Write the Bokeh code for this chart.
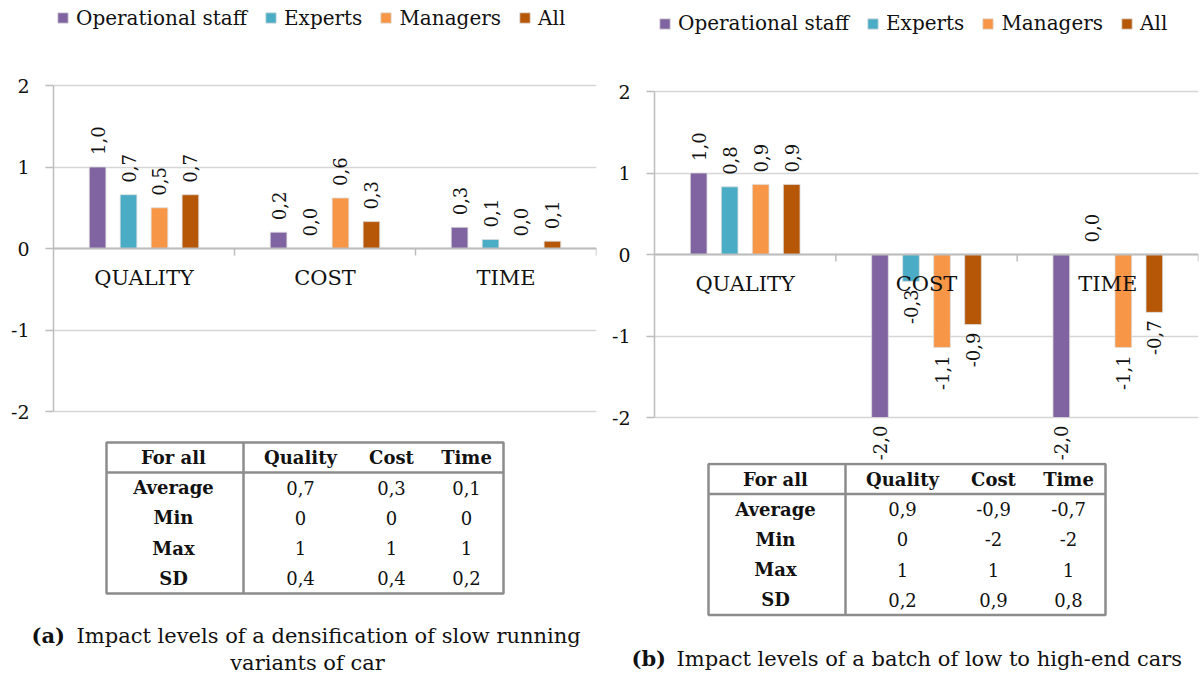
import math
from bokeh.plotting import figure
from bokeh.models import (FactorRange, Range1d, ColumnDataSource, FixedTicker,
                          Span, Legend, LegendItem, PrintfTickFormatter)
from bokeh.transform import dodge
from bokeh.layouts import row, column
from bokeh.embed import file_html
from bokeh.resources import INLINE
from bokeh.core.properties import value

# ---------------- data ----------------
categories = ["QUALITY", "COST", "TIME"]
series_names = ["Operational staff", "Experts", "Managers", "All"]

# panel (a): densification of slow running variants
a_operational = [1.0, 0.2, 0.26]
a_experts = [0.66, 0.0, 0.11]
a_managers = [0.5, 0.62, 0.0]
a_all = [0.66, 0.33, 0.09]

# panel (b): batch of low to high-end cars
b_operational = [1.0, -2.0, -2.0]
b_experts = [0.83, -0.33, 0.0]
b_managers = [0.86, -1.14, -1.14]
b_all = [0.86, -0.86, -0.71]

y_ticks = [-2, -1, 0, 1, 2]

table_header = ["For all", "Quality", "Cost", "Time"]
table_rows = ["Average", "Min", "Max", "SD"]
a_quality = [0.7, 0, 1, 0.4]
a_cost = [0.3, 0, 1, 0.4]
a_time = [0.1, 0, 1, 0.2]
b_quality = [0.9, 0, 1, 0.2]
b_cost = [-0.9, -2, 1, 0.9]
b_time = [-0.7, -2, 1, 0.8]

caption_a = ["(a)", "Impact levels of a densification of slow running", "variants of car"]
caption_b = ["(b)", "Impact levels of a batch of low to high-end cars"]

# ---------------- style ----------------
FONT = "DejaVu Serif"
COLORS = ["#8064A2", "#4BACC6", "#F79646", "#B65708"]
OFFSETS = [-0.2565, -0.0855, 0.0855, 0.2565]
BAR_W = 0.092
PX = 81.5            # pixels per value unit
AXIS_GRAY = "#bdbdbd"
GRID_GRAY = "#d6d6d6"
TXT = "#111111"
TGRAY = "#8c8c8c"


def no_align(p):
    try:
        p.frame_align = False
    except Exception:
        pass


def fmt1(v):
    return f"{v:.1f}".replace(".", ",")


def fmt_table(v):
    if float(v).is_integer():
        return str(int(v))
    return f"{v:.1f}".replace(".", ",")


def make_chart(series, width, height, b_left, b_right, top_px, legend_xy):
    bottom_px = height - top_px - PX * (max(y_ticks) - min(y_ticks))
    y_end = max(y_ticks) + top_px / PX
    y_start = min(y_ticks) - bottom_px / PX
    p = figure(width=width, height=height,
               x_range=FactorRange(*categories, range_padding=0),
               y_range=Range1d(y_start, y_end),
               x_axis_location=None, output_backend="svg", toolbar_location=None,
               min_border_left=b_left, min_border_right=b_right,
               min_border_top=0, min_border_bottom=0,
               outline_line_color=None)
    no_align(p)
    p.xgrid.visible = False
    yax = p.yaxis[0]
    yax.ticker = FixedTicker(ticks=y_ticks)
    yax.formatter = PrintfTickFormatter(format="%d")
    yax.bounds = (min(y_ticks), max(y_ticks))
    yax.axis_line_color = AXIS_GRAY
    yax.axis_line_width = 1.5
    yax.major_tick_out = 8
    yax.major_tick_in = 0
    yax.major_tick_line_color = AXIS_GRAY
    yax.major_tick_line_width = 1.5
    yax.minor_tick_line_color = None
    yax.major_label_text_font = FONT
    yax.major_label_text_font_size = "19px"
    yax.major_label_text_color = TXT
    yax.major_label_standoff = 16
    p.ygrid.ticker = FixedTicker(ticks=y_ticks)
    p.ygrid.grid_line_color = GRID_GRAY
    p.ygrid.grid_line_width = 1.5

    p.add_layout(Span(location=0, dimension="width", line_color=AXIS_GRAY, line_width=2))
    bounds = [float(k + 1) for k in range(len(categories))]
    p.segment(x0=bounds, y0=[0] * len(bounds), x1=bounds, y1=[-7 / PX] * len(bounds),
              line_color=AXIS_GRAY, line_width=1.5)

    src = ColumnDataSource(dict(cat=categories, **{f"s{i}": v for i, v in enumerate(series)}))
    items = []
    for i, (name, vals) in enumerate(zip(series_names, series)):
        r = p.vbar(x=dodge("cat", OFFSETS[i], range=p.x_range), top=f"s{i}", bottom=0,
                   width=BAR_W, source=src, fill_color=COLORS[i],
                   line_color="#dddddd", line_width=0.8)
        items.append(LegendItem(label=name, renderers=[r]))
        pos = [(c, v) for c, v in zip(categories, vals) if v >= 0]
        neg = [(c, v) for c, v in zip(categories, vals) if v < 0]
        for group, gap, align in ((pos, 12, "left"), (neg, -8, "right")):
            if not group:
                continue
            s = ColumnDataSource(dict(cat=[g[0] for g in group], v=[g[1] for g in group],
                                      lab=[fmt1(g[1]) for g in group]))
            p.text(x=dodge("cat", OFFSETS[i], range=p.x_range), y=dodge("v", gap / PX),
                   text="lab", source=s, angle=math.pi / 2, text_align=align,
                   text_baseline="middle", text_font=value(FONT),
                   text_font_size="18px", text_color=TXT)

    cs = ColumnDataSource(dict(cat=categories, base=[0] * len(categories)))
    p.text(x="cat", y=dodge("base", -29 / PX), text="cat", source=cs,
           text_align="center", text_baseline="middle", text_font=value(FONT),
           text_font_size="21px", text_color=TXT)

    frame_h = height
    leg = Legend(items=items, orientation="horizontal",
                 location=(legend_xy[0], frame_h - legend_xy[1]),
                 margin=0, padding=0, spacing=17, label_standoff=7,
                 glyph_width=13, glyph_height=13,
                 label_text_font=FONT, label_text_font_size="20px",
                 label_text_color=TXT, border_line_color=None,
                 background_fill_alpha=0)
    p.add_layout(leg)
    return p


# table geometry (px)
COL_DIV = 137
TABLE_W = 397
HEADER_H = 30
ROW_H = 30.25
COL_CENTERS = [67, 194, 285, 360]


def make_table(width, height, L, T, cols, caption, cap_pos):
    p = figure(width=width, height=height, x_range=Range1d(0, width),
               y_range=Range1d(height, 0), x_axis_location=None, y_axis_location=None,
               output_backend="svg", toolbar_location=None, min_border=0,
               min_border_left=0, min_border_right=0, min_border_top=0,
               min_border_bottom=0, outline_line_color=None)
    no_align(p)
    p.grid.visible = False
    bottom = T + HEADER_H + ROW_H * len(table_rows)
    p.quad(left=[L], right=[L + TABLE_W], top=[T], bottom=[bottom],
           fill_color=None, line_color=TGRAY, line_width=2.5)
    p.segment(x0=[L, L + COL_DIV], y0=[T + HEADER_H, T],
              x1=[L + TABLE_W, L + COL_DIV], y1=[T + HEADER_H, bottom],
              line_color=TGRAY, line_width=2.5)
    common = dict(text_align="center", text_baseline="middle",
                  text_font=value(FONT), text_font_size="18px", text_color=TXT)
    p.text(x=[L + c for c in COL_CENTERS], y=[T + HEADER_H / 2] * len(table_header),
           text=table_header, text_font_style="bold", **common)
    row_y = [T + HEADER_H + ROW_H * (k + 0.5) for k in range(len(table_rows))]
    p.text(x=[L + COL_CENTERS[0]] * len(table_rows), y=row_y, text=table_rows,
           text_font_style="bold", **common)
    for j, colvals in enumerate(cols):
        p.text(x=[L + COL_CENTERS[j + 1]] * len(colvals), y=row_y,
               text=[fmt_table(v) for v in colvals], **common)

    (bx, tx, y1), rest = cap_pos[0], cap_pos[1:]
    cap = dict(text_baseline="middle", text_font=value(FONT), text_font_size="21px",
               text_color=TXT)
    p.text(x=[bx], y=[y1], text=[caption[0]], text_align="left",
           text_font_style="bold", **cap)
    p.text(x=[tx], y=[y1], text=[caption[1]], text_align="left", **cap)
    for (cx, cy), txt in zip(rest, caption[2:]):
        p.text(x=[cx], y=[cy], text=[txt], text_align="center", **cap)
    return p


chart_a = make_chart([a_operational, a_experts, a_managers, a_all],
                     600, 430, 53, 4, 85, (3, 29.5))
chart_b = make_chart([b_operational, b_experts, b_managers, b_all],
                     600, 462, 54, 2, 91, (4, 35))
table_a = make_table(600, 245, 106, 12, [a_quality, a_cost, a_time], caption_a,
                     [(31, 76, 205), (307, 232)])
table_b = make_table(600, 213, 108, 1.5, [b_quality, b_cost, b_time], caption_b,
                     [(31, 76, 196)])

layout = row(column(chart_a, table_a, spacing=0), column(chart_b, table_b, spacing=0), spacing=0)

with open("out.html", "w") as f:
    f.write(file_html(layout, INLINE))
